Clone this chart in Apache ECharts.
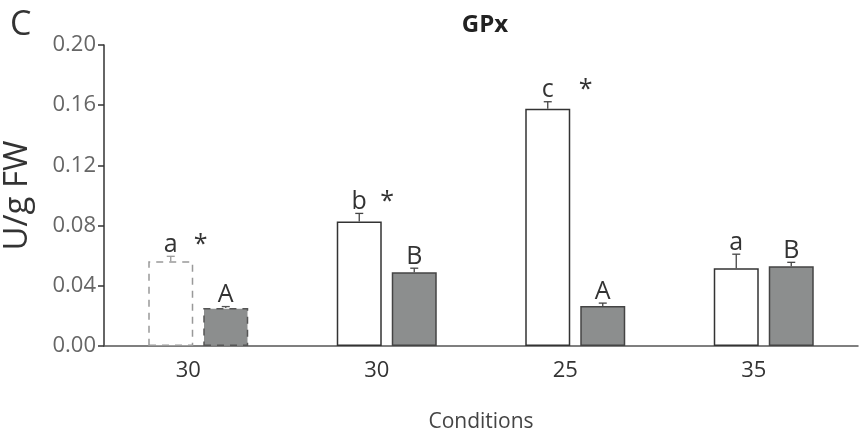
<!DOCTYPE html>
<html>
<head>
<meta charset="utf-8">
<script src="https://cdn.jsdelivr.net/npm/echarts@6/dist/echarts.min.js"></script>
<style>html,body{margin:0;padding:0;background:#fff;}#c{width:859px;height:432px;}</style>
</head>
<body>
<div id="c"></div>
<script>
const categories = ['30', '30', '25', '35'];
const whiteValues = [0.0563, 0.0828, 0.1576, 0.0517];
const whiteErrors = [0.0033, 0.0053, 0.0047, 0.0093];
const grayValues = [0.0252, 0.049, 0.0265, 0.053];
const grayErrors = [0.001, 0.0027, 0.002, 0.0026];
const whiteLetters = ['a', 'b', 'c', 'a'];
const grayLetters = ['A', 'B', 'A', 'B'];
const whiteStars = ['*', '*', '*', ''];
const grayStars = ['', '', '', ''];
const yTicks = [0, 0.04, 0.08, 0.12, 0.16, 0.20];

const BAR_W = 45;
const GAP = 10;
const OFFSET = (BAR_W + GAP) / 2;
const starDx = [30, 28, 38, 0];
const FONT = '"Open Sans", "Noto Sans", sans-serif';

function overlay(values, errs, letters, stars, side, lineColors) {
  return {
    type: 'custom',
    z: 10,
    encode: { x: 0, y: 1 },
    data: values.map((v, i) => [i, v, errs[i]]),
    renderItem(params, api) {
      const i = api.value(0), v = api.value(1), e = api.value(2);
      const base = api.coord([i, v]);
      const top = api.coord([i, v + e]);
      const x = base[0] + side * OFFSET;
      const col = lineColors[i];
      const children = [
        { type: 'line', shape: { x1: x, y1: base[1], x2: x, y2: top[1] }, style: { stroke: col, lineWidth: 1.3 } },
        { type: 'line', shape: { x1: x - 4, y1: top[1], x2: x + 4, y2: top[1] }, style: { stroke: col, lineWidth: 1.3 } },
        { type: 'text', x: x, y: top[1] + 1, style: { text: letters[i], fill: '#333', font: '25px ' + FONT, align: 'center', verticalAlign: 'bottom' } }
      ];
      if (stars[i]) {
        children.push({ type: 'text', x: x + starDx[i], y: top[1] + 1, style: { text: stars[i], fill: '#333', font: '25px ' + FONT, align: 'center', verticalAlign: 'bottom' } });
      }
      return { type: 'group', children };
    }
  };
}

const chart = echarts.init(document.getElementById('c'));
chart.setOption({
  animation: false,
  backgroundColor: '#fff',
  title: [
    { text: 'GPx', left: 480, top: 8, textAlign: 'center', textStyle: { fontFamily: FONT, fontWeight: 'bold', fontSize: 24, color: '#222' } },
    { text: 'C', left: 5, top: 3, textStyle: { fontFamily: FONT, fontWeight: 'normal', fontSize: 34, color: '#333' } }
  ],
  grid: { left: 104, right: 1, top: 45, bottom: 86, containLabel: false, outerBoundsMode: 'none' },
  xAxis: {
    type: 'category',
    data: categories,
    name: 'Conditions',
    nameLocation: 'middle',
    nameGap: 66,
    nameTextStyle: { fontFamily: FONT, fontSize: 21, color: '#444' },
    axisLine: { lineStyle: { color: '#555', width: 1.5 } },
    axisTick: { show: false },
    axisLabel: { fontFamily: FONT, fontSize: 22, color: '#333', margin: 14, padding: [0, 20, 0, 0] }
  },
  yAxis: {
    type: 'value',
    min: 0,
    max: 0.20,
    interval: 0.04,
    name: 'U/g FW',
    nameLocation: 'middle',
    nameRotate: 90,
    nameGap: 70,
    nameTextStyle: { fontFamily: FONT, fontSize: 33, color: '#333' },
    splitLine: { show: false },
    axisLine: { show: true, lineStyle: { color: '#333', width: 1.5 } },
    axisTick: { show: true, length: 6, lineStyle: { color: '#333', width: 1.5 } },
    axisLabel: { fontFamily: FONT, fontSize: 22, color: '#666', margin: 8, formatter: v => v.toFixed(2) }
  },
  series: [
    {
      type: 'bar',
      barWidth: BAR_W,
      barGap: (GAP / BAR_W * 100) + '%',
      data: whiteValues.map((v, i) => i === 0 ? { value: v, itemStyle: { borderColor: '#999', borderType: [7, 6] } } : v),
      itemStyle: { color: '#fff', borderColor: '#333', borderWidth: 1.5 }
    },
    {
      type: 'bar',
      barWidth: BAR_W,
      data: grayValues.map((v, i) => i === 0 ? { value: v, itemStyle: { borderColor: '#555', borderType: [7, 6] } } : v),
      itemStyle: { color: '#8c8e8e', borderColor: '#444', borderWidth: 1.5 }
    },
    overlay(whiteValues, whiteErrors, whiteLetters, whiteStars, -1, ['#999', '#444', '#444', '#444']),
    overlay(grayValues, grayErrors, grayLetters, grayStars, 1, ['#555', '#444', '#444', '#444'])
  ]
});
</script>
</body>
</html>
